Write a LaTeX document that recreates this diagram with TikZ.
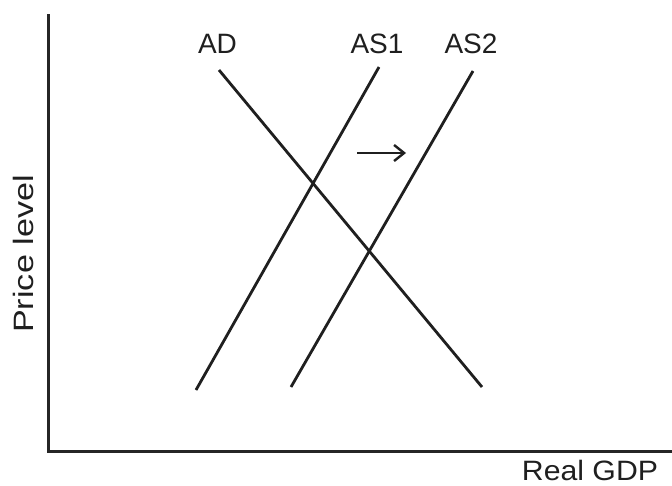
\documentclass[tikz,border=0pt]{standalone}
\usepackage{fontspec}
\setmainfont{Liberation Sans}
\usetikzlibrary{arrows.meta}
\begin{document}
\begin{tikzpicture}[x=1pt,y=-1pt,
  curve/.style={line width=2.8pt,color=black!88},
  axis/.style={line width=3pt,color=black!85},
  lbl/.style={font=\fontsize{28}{30}\selectfont,text=black!88,inner sep=0pt},
  shiftarrow/.style={line width=2.4pt,color=black!88,-{Straight Barb[length=10pt,width=16pt,line width=2.4pt]}}]
\useasboundingbox (0,0) rectangle (672,485);
% axes
\coordinate (top) at (48,14);
\coordinate (origin) at (48,451);
\coordinate (right) at (672,451);
\draw[axis] (top) -- (origin) -- (right);
% curves
\coordinate (ad1) at (219,70);
\coordinate (ad2) at (482,387);
\coordinate (asa1) at (379,67);
\coordinate (asa2) at (196,390);
\coordinate (asb1) at (473,71);
\coordinate (asb2) at (291,387);
\draw[curve] (ad1) -- (ad2);
\draw[curve] (asa1) -- (asa2);
\draw[curve] (asb1) -- (asb2);
% shift arrow
\coordinate (arrA) at (357,153);
\coordinate (arrB) at (406,153);
\draw[shiftarrow] (arrA) -- (arrB);
% labels
\node[lbl,anchor=base] (lad) at (217.5,53) {AD};
\node[lbl,anchor=base] (las1) at (377,53) {AS1};
\node[lbl,anchor=base] (las2) at (471,53) {AS2};
\node[lbl,anchor=base] (lx) at (590,480) {\scalebox{1.08}[1]{Real GDP}};
\node[lbl,anchor=base,rotate=90] (ly) at (33,254) {\scalebox{1.22}[1]{Price level}};
\end{tikzpicture}
\end{document}
